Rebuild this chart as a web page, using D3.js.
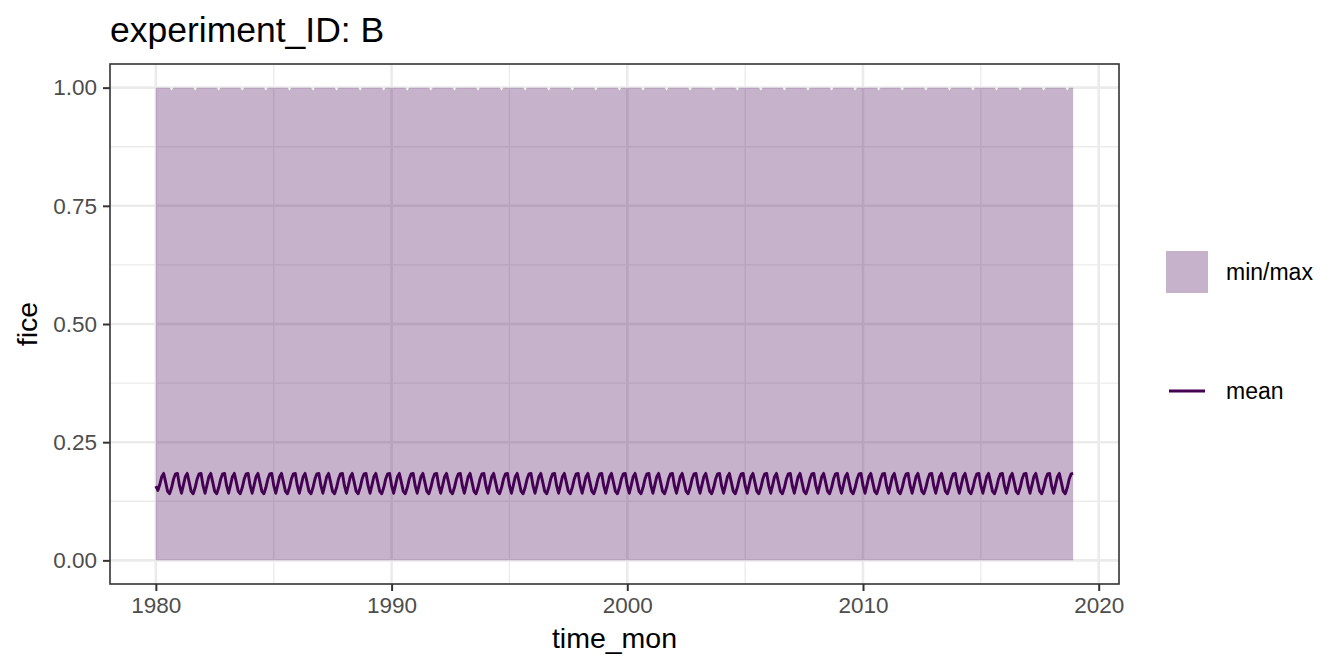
<!DOCTYPE html>
<html>
<head>
<meta charset="utf-8">
<script src="https://cdn.jsdelivr.net/npm/d3@7"></script>
<style>
  html, body { margin: 0; padding: 0; background: #fff; }
  svg { display: block; font-family: "Liberation Sans", Arial, Helvetica, sans-serif; }
</style>
</head>
<body>
<svg id="chart" width="1344" height="672"></svg>
<script>
// ---- data (monthly, Jan 1980 – Dec 2018) ----
const years = [1980,1981,1982,1983,1984,1985,1986,1987,1988,1989,1990,1991,1992,1993,1994,1995,1996,1997,1998,1999,2000,2001,2002,2003,2004,2005,2006,2007,2008,2009,2010,2011,2012,2013,2014,2015,2016,2017,2018];
const months = ["Jan","Feb","Mar","Apr","May","Jun","Jul","Aug","Sep","Oct","Nov","Dec"];

// mean fice, one row per year (Jan..Dec)
const meanByYear = [
  [.157,.148,.160,.177,.184,.165,.146,.141,.154,.172,.183,.184],
  [.158,.142,.158,.177,.184,.165,.146,.141,.154,.172,.183,.184],
  [.158,.142,.158,.177,.184,.165,.146,.141,.154,.172,.183,.184],
  [.158,.142,.158,.177,.184,.165,.146,.141,.154,.172,.183,.184],
  [.158,.142,.158,.177,.184,.165,.146,.141,.154,.172,.183,.184],
  [.158,.142,.158,.177,.184,.165,.146,.141,.154,.172,.183,.184],
  [.158,.142,.158,.177,.184,.165,.146,.141,.154,.172,.183,.184],
  [.158,.142,.158,.177,.184,.165,.146,.141,.154,.172,.183,.184],
  [.158,.142,.158,.177,.184,.165,.146,.141,.154,.172,.183,.184],
  [.158,.142,.158,.177,.184,.165,.146,.141,.154,.172,.183,.184],
  [.158,.142,.158,.177,.184,.165,.146,.141,.154,.172,.183,.184],
  [.158,.142,.158,.177,.184,.165,.146,.141,.154,.172,.183,.184],
  [.158,.142,.158,.177,.184,.165,.146,.141,.154,.172,.183,.184],
  [.158,.142,.158,.177,.184,.165,.146,.141,.154,.172,.183,.184],
  [.158,.142,.158,.177,.184,.165,.146,.141,.154,.172,.183,.184],
  [.158,.142,.158,.177,.184,.165,.146,.141,.154,.172,.183,.184],
  [.158,.142,.158,.177,.184,.165,.146,.141,.154,.172,.183,.184],
  [.158,.142,.158,.177,.184,.165,.146,.141,.154,.172,.183,.184],
  [.158,.142,.158,.177,.184,.165,.146,.141,.154,.172,.183,.184],
  [.158,.142,.158,.177,.184,.165,.146,.141,.154,.172,.183,.184],
  [.158,.142,.158,.177,.184,.165,.146,.141,.154,.172,.183,.184],
  [.158,.142,.158,.177,.184,.165,.146,.141,.154,.172,.183,.184],
  [.158,.142,.158,.177,.184,.165,.146,.141,.154,.172,.183,.184],
  [.158,.142,.158,.177,.184,.165,.146,.141,.154,.172,.183,.184],
  [.158,.142,.158,.177,.184,.165,.146,.141,.154,.172,.183,.184],
  [.158,.142,.158,.177,.184,.165,.146,.141,.154,.172,.183,.184],
  [.158,.142,.158,.177,.184,.165,.146,.141,.154,.172,.183,.184],
  [.158,.142,.158,.177,.184,.165,.146,.141,.154,.172,.183,.184],
  [.158,.142,.158,.177,.184,.165,.146,.141,.154,.172,.183,.184],
  [.158,.142,.158,.177,.184,.165,.146,.141,.154,.172,.183,.184],
  [.158,.142,.158,.177,.184,.165,.146,.141,.154,.172,.183,.184],
  [.158,.142,.158,.177,.184,.165,.146,.141,.154,.172,.183,.184],
  [.158,.142,.158,.177,.184,.165,.146,.141,.154,.172,.183,.184],
  [.158,.142,.158,.177,.184,.165,.146,.141,.154,.172,.183,.184],
  [.158,.142,.158,.177,.184,.165,.146,.141,.154,.172,.183,.184],
  [.158,.142,.158,.177,.184,.165,.146,.141,.154,.172,.183,.184],
  [.158,.142,.158,.177,.184,.165,.146,.141,.154,.172,.183,.184],
  [.158,.142,.158,.177,.184,.165,.146,.141,.154,.172,.183,.184],
  [.158,.142,.158,.177,.184,.165,.146,.141,.154,.172,.183,.184]
];

// max fice, one row per year (Jan..Dec)
const maxByYear = [
  [1,1,1,1,1,1,1,1,.994,1,1,1],[1,1,1,1,1,1,1,1,.994,1,1,1],[1,1,1,1,1,1,1,1,.994,1,1,1],
  [1,1,1,1,1,1,1,1,.994,1,1,1],[1,1,1,1,1,1,1,1,.994,1,1,1],[1,1,1,1,1,1,1,1,.994,1,1,1],
  [1,1,1,1,1,1,1,1,.994,1,1,1],[1,1,1,1,1,1,1,1,.994,1,1,1],[1,1,1,1,1,1,1,1,.994,1,1,1],
  [1,1,1,1,1,1,1,1,.994,1,1,1],[1,1,1,1,1,1,1,1,.994,1,1,1],[1,1,1,1,1,1,1,1,.994,1,1,1],
  [1,1,1,1,1,1,1,1,.994,1,1,1],[1,1,1,1,1,1,1,1,.994,1,1,1],[1,1,1,1,1,1,1,1,.994,1,1,1],
  [1,1,1,1,1,1,1,1,.994,1,1,1],[1,1,1,1,1,1,1,1,.994,1,1,1],[1,1,1,1,1,1,1,1,.994,1,1,1],
  [1,1,1,1,1,1,1,1,.994,1,1,1],[1,1,1,1,1,1,1,1,.994,1,1,1],[1,1,1,1,1,1,1,1,.994,1,1,1],
  [1,1,1,1,1,1,1,1,.994,1,1,1],[1,1,1,1,1,1,1,1,.994,1,1,1],[1,1,1,1,1,1,1,1,.994,1,1,1],
  [1,1,1,1,1,1,1,1,.994,1,1,1],[1,1,1,1,1,1,1,1,.994,1,1,1],[1,1,1,1,1,1,1,1,.994,1,1,1],
  [1,1,1,1,1,1,1,1,.994,1,1,1],[1,1,1,1,1,1,1,1,.994,1,1,1],[1,1,1,1,1,1,1,1,.994,1,1,1],
  [1,1,1,1,1,1,1,1,.994,1,1,1],[1,1,1,1,1,1,1,1,.994,1,1,1],[1,1,1,1,1,1,1,1,.994,1,1,1],
  [1,1,1,1,1,1,1,1,.994,1,1,1],[1,1,1,1,1,1,1,1,.994,1,1,1],[1,1,1,1,1,1,1,1,.994,1,1,1],
  [1,1,1,1,1,1,1,1,.994,1,1,1],[1,1,1,1,1,1,1,1,.994,1,1,1],[1,1,1,1,1,1,1,1,.994,1,1,1]
];

// min fice, one row per year (Jan..Dec)
const minByYear = [
  [0,0,0,0,0,0,0,0,0,0,0,0],[0,0,0,0,0,0,0,0,0,0,0,0],[0,0,0,0,0,0,0,0,0,0,0,0],
  [0,0,0,0,0,0,0,0,0,0,0,0],[0,0,0,0,0,0,0,0,0,0,0,0],[0,0,0,0,0,0,0,0,0,0,0,0],
  [0,0,0,0,0,0,0,0,0,0,0,0],[0,0,0,0,0,0,0,0,0,0,0,0],[0,0,0,0,0,0,0,0,0,0,0,0],
  [0,0,0,0,0,0,0,0,0,0,0,0],[0,0,0,0,0,0,0,0,0,0,0,0],[0,0,0,0,0,0,0,0,0,0,0,0],
  [0,0,0,0,0,0,0,0,0,0,0,0],[0,0,0,0,0,0,0,0,0,0,0,0],[0,0,0,0,0,0,0,0,0,0,0,0],
  [0,0,0,0,0,0,0,0,0,0,0,0],[0,0,0,0,0,0,0,0,0,0,0,0],[0,0,0,0,0,0,0,0,0,0,0,0],
  [0,0,0,0,0,0,0,0,0,0,0,0],[0,0,0,0,0,0,0,0,0,0,0,0],[0,0,0,0,0,0,0,0,0,0,0,0],
  [0,0,0,0,0,0,0,0,0,0,0,0],[0,0,0,0,0,0,0,0,0,0,0,0],[0,0,0,0,0,0,0,0,0,0,0,0],
  [0,0,0,0,0,0,0,0,0,0,0,0],[0,0,0,0,0,0,0,0,0,0,0,0],[0,0,0,0,0,0,0,0,0,0,0,0],
  [0,0,0,0,0,0,0,0,0,0,0,0],[0,0,0,0,0,0,0,0,0,0,0,0],[0,0,0,0,0,0,0,0,0,0,0,0],
  [0,0,0,0,0,0,0,0,0,0,0,0],[0,0,0,0,0,0,0,0,0,0,0,0],[0,0,0,0,0,0,0,0,0,0,0,0],
  [0,0,0,0,0,0,0,0,0,0,0,0],[0,0,0,0,0,0,0,0,0,0,0,0],[0,0,0,0,0,0,0,0,0,0,0,0],
  [0,0,0,0,0,0,0,0,0,0,0,0],[0,0,0,0,0,0,0,0,0,0,0,0],[0,0,0,0,0,0,0,0,0,0,0,0]
];

const xTicks = [1980, 1990, 2000, 2010, 2020];
const xMinorTicks = [1985, 1995, 2005, 2015];
const yTicks = [0, 0.25, 0.5, 0.75, 1.0];
const yMinorTicks = [0.125, 0.375, 0.625, 0.875];
const titleText = "experiment_ID: B";
const xTitle = "time_mon";
const yTitle = "fice";
const legendLabels = ["min/max", "mean"];

// ---- build table ----
const rows = [];
years.forEach((yr, i) => {
  months.forEach((m, j) => {
    rows.push({
      date: new Date(Date.UTC(yr, j, 1)),
      mean: meanByYear[i][j],
      min: minByYear[i][j],
      max: maxByYear[i][j]
    });
  });
});

// ---- layout ----
const svg = d3.select("#chart");
const panel = { left: 110, right: 1119, top: 64, bottom: 584 };
const purple = "#440154";

const dExt = d3.extent(rows, d => d.date);
const span = dExt[1] - dExt[0];
const x = d3.scaleUtc()
  .domain([new Date(+dExt[0] - 0.05 * span), new Date(+dExt[1] + 0.05 * span)])
  .range([panel.left, panel.right]);
const y = d3.scaleLinear().domain([-0.05, 1.05]).range([panel.bottom, panel.top]);
const yr = v => new Date(Date.UTC(v, 0, 1));

// background
svg.append("rect").attr("x", panel.left).attr("y", panel.top)
  .attr("width", panel.right - panel.left).attr("height", panel.bottom - panel.top)
  .attr("fill", "#fff");

// grid
const grid = svg.append("g");
grid.selectAll(".ymin").data(yMinorTicks).join("line")
  .attr("x1", panel.left).attr("x2", panel.right)
  .attr("y1", d => y(d)).attr("y2", d => y(d))
  .attr("stroke", "#ebebeb").attr("stroke-width", 1.3);
grid.selectAll(".xmin").data(xMinorTicks).join("line")
  .attr("y1", panel.top).attr("y2", panel.bottom)
  .attr("x1", d => x(yr(d))).attr("x2", d => x(yr(d)))
  .attr("stroke", "#ebebeb").attr("stroke-width", 1.3);
grid.selectAll(".ymaj").data(yTicks).join("line")
  .attr("x1", panel.left).attr("x2", panel.right)
  .attr("y1", d => y(d)).attr("y2", d => y(d))
  .attr("stroke", "#ebebeb").attr("stroke-width", 2.6);
grid.selectAll(".xmaj").data(xTicks).join("line")
  .attr("y1", panel.top).attr("y2", panel.bottom)
  .attr("x1", d => x(yr(d))).attr("x2", d => x(yr(d)))
  .attr("stroke", "#ebebeb").attr("stroke-width", 2.6);

// ribbon
const area = d3.area().x(d => x(d.date)).y0(d => y(d.min)).y1(d => y(d.max));
svg.append("path").datum(rows).attr("d", area)
  .attr("fill", purple).attr("fill-opacity", 0.3);

// mean line
const line = d3.line().x(d => x(d.date)).y(d => y(d.mean));
svg.append("path").datum(rows).attr("d", line)
  .attr("fill", "none").attr("stroke", purple).attr("stroke-width", 2.9)
  .attr("stroke-linejoin", "round");

// panel border
svg.append("rect").attr("x", panel.left).attr("y", panel.top)
  .attr("width", panel.right - panel.left).attr("height", panel.bottom - panel.top)
  .attr("fill", "none").attr("stroke", "#333333").attr("stroke-width", 1.6);

// axes
const xAxis = d3.axisBottom(x).tickValues(xTicks.map(yr)).tickFormat(d3.utcFormat("%Y"))
  .tickSize(7).tickPadding(6);
const gx = svg.append("g").attr("transform", `translate(0,${panel.bottom})`).call(xAxis);
gx.select(".domain").remove();
gx.selectAll(".tick line").attr("stroke", "#333333").attr("stroke-width", 2);
gx.selectAll(".tick text").attr("fill", "#4d4d4d").style("font-size", "22.5px")
  .style("font-family", "'Liberation Sans', Arial, sans-serif");

const yAxis = d3.axisLeft(y).tickValues(yTicks).tickFormat(d3.format(".2f"))
  .tickSize(7).tickPadding(6);
const gy = svg.append("g").attr("transform", `translate(${panel.left},0)`).call(yAxis);
gy.select(".domain").remove();
gy.selectAll(".tick line").attr("stroke", "#333333").attr("stroke-width", 2);
gy.selectAll(".tick text").attr("fill", "#4d4d4d").style("font-size", "22.5px")
  .style("font-family", "'Liberation Sans', Arial, sans-serif");

// titles
svg.append("text").attr("x", panel.left).attr("y", 42)
  .style("font-size", "35.5px").attr("fill", "#000").text(titleText);
svg.append("text").attr("x", (panel.left + panel.right) / 2).attr("y", 648)
  .attr("text-anchor", "middle").style("font-size", "28.5px").attr("fill", "#000").text(xTitle);
svg.append("text")
  .attr("transform", `translate(37,${(panel.top + panel.bottom) / 2}) rotate(-90)`)
  .attr("text-anchor", "middle").style("font-size", "28.5px").attr("fill", "#000").text(yTitle);

// legend
const lg = svg.append("g");
lg.append("rect").attr("x", 1166).attr("y", 251).attr("width", 42).attr("height", 42)
  .attr("fill", purple).attr("fill-opacity", 0.3);
lg.append("text").attr("x", 1226).attr("y", 272).attr("dy", "0.35em")
  .style("font-size", "23px").attr("fill", "#000").text(legendLabels[0]);
lg.append("line").attr("x1", 1169).attr("x2", 1205).attr("y1", 391).attr("y2", 391)
  .attr("stroke", purple).attr("stroke-width", 2.9);
lg.append("text").attr("x", 1226).attr("y", 391).attr("dy", "0.35em")
  .style("font-size", "23px").attr("fill", "#000").text(legendLabels[1]);
</script>
</body>
</html>
